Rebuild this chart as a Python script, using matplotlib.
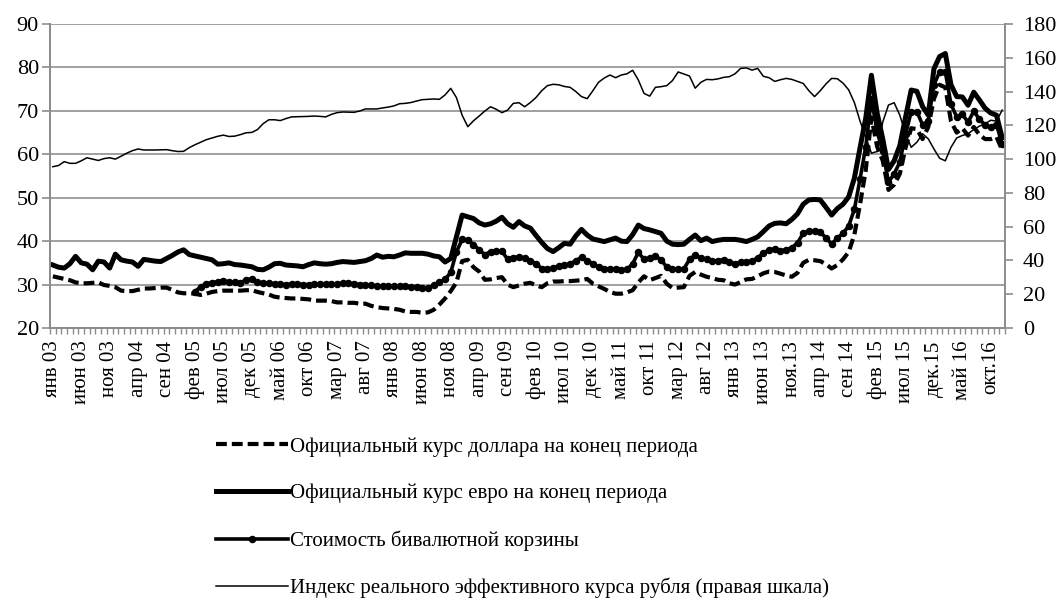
import matplotlib
matplotlib.use('Agg')

import numpy as np
from matplotlib import rc
from matplotlib import pyplot as plt

rc('font', family=['Liberation Serif', 'DejaVu Serif'])

nan = np.nan

# monthly, Jan 2003 .. Dec 2016 (one row per year)
usd = [
    31.9, 31.6, 31.3, 31.0, 30.5, 30.3, 30.3, 30.4, 30.5, 29.9, 29.7, 29.4,
    28.6, 28.5, 28.5, 28.8, 29.1, 29.1, 29.2, 29.3, 29.3, 28.8, 28.2, 28.0,
    28.0, 27.9, 27.6, 27.9, 28.3, 28.5, 28.6, 28.6, 28.6, 28.6, 28.7, 28.7,
    28.3, 28.0, 27.7, 27.2, 27.0, 26.9, 26.8, 26.8, 26.7, 26.6, 26.3, 26.3,
    26.3, 26.2, 25.9, 25.9, 25.8, 25.8, 25.6, 25.6, 25.1, 24.8, 24.6, 24.5,
    24.4, 24.2, 23.8, 23.7, 23.7, 23.5, 23.6, 24.2, 25.4, 26.8, 28.5, 30.5,
    35.4, 35.7, 34.0, 33.0, 31.1, 31.2, 31.5, 31.7, 30.0, 29.4, 29.8, 30.2,
    30.4, 29.8, 29.4, 30.3, 30.7, 30.7, 30.8, 30.8, 30.9, 31.0, 31.3, 30.2,
    29.6, 29.0, 28.3, 27.9, 27.9, 28.2, 28.7, 30.5, 31.9, 31.0, 31.5, 32.0,
    30.2, 29.2, 29.3, 29.4, 32.0, 32.9, 32.3, 31.8, 31.5, 31.1, 31.0, 30.3,
    30.0, 30.6, 31.2, 31.3, 31.9, 32.6, 33.0, 32.9, 32.5, 32.1, 31.8, 32.7,
    35.0, 35.7, 35.6, 35.4, 34.7, 33.7, 34.5, 35.8, 37.5, 41.5, 48.5, 56.3,
    68.5, 61.8, 58.5, 51.8, 53.0, 55.5, 61.5, 66.0, 65.8, 63.5, 66.3, 72.8,
    76.0, 75.4, 67.6, 65.0, 66.0, 64.3, 66.3, 64.5, 63.5, 63.5, 64.0, 61.0,
]

eur = [
    34.5, 34.0, 33.8, 34.8, 36.5, 35.0, 34.7, 33.4, 35.4, 35.2, 33.8, 37.0,
    35.7, 35.4, 35.2, 34.2, 35.8, 35.6, 35.4, 35.3, 36.0, 36.7, 37.5, 38.0,
    36.9, 36.6, 36.3, 36.0, 35.7, 34.7, 34.8, 35.0, 34.6, 34.5, 34.3, 34.1,
    33.5, 33.4, 34.0, 34.8, 34.9, 34.5, 34.4, 34.3, 34.1, 34.6, 35.0, 34.8,
    34.7, 34.8, 35.1, 35.3, 35.2, 35.1, 35.3, 35.5, 36.0, 36.8, 36.3, 36.5,
    36.4, 36.8, 37.3, 37.2, 37.2, 37.2, 37.0, 36.6, 36.4, 35.2, 36.0, 41.0,
    46.0, 45.6, 45.2, 44.2, 43.7, 44.0, 44.6, 45.5, 44.0, 43.2, 44.5, 43.5,
    43.0, 41.3, 39.7, 38.3, 37.6, 38.5, 39.5, 39.3, 41.2, 42.7, 41.4, 40.5,
    40.2, 39.9, 40.3, 40.7, 40.0, 39.9, 41.5, 43.7, 42.9, 42.6, 42.2, 41.8,
    40.0, 39.3, 39.2, 39.3, 40.4, 41.4, 40.1, 40.7, 39.9, 40.2, 40.4, 40.4,
    40.4, 40.2, 39.9, 40.4, 41.0, 42.2, 43.5, 44.1, 44.2, 44.0, 45.0, 46.3,
    48.5, 49.5, 49.6, 49.5, 47.8, 46.0, 47.5, 48.5, 50.2, 54.5, 61.5, 68.3,
    78.2, 69.5, 63.5, 56.5, 58.5, 62.0, 68.5, 74.8, 74.5, 71.0, 69.0, 79.7,
    82.5, 83.2, 76.0, 73.3, 73.2, 71.3, 74.3, 72.5, 70.6, 69.5, 69.0, 63.8,
]

basket = [
    nan, nan, nan, nan, nan, nan, nan, nan, nan, nan, nan, nan,
    nan, nan, nan, nan, nan, nan, nan, nan, nan, nan, nan, nan,
    nan, 28.4, 29.5, 30.2, 30.4, 30.7, 30.8, 30.6, 30.5, 30.4, 31.1, 31.3,
    30.6, 30.4, 30.3, 30.2, 30.1, 30.0, 30.1, 30.1, 30.0, 30.0, 30.1, 30.1,
    30.2, 30.1, 30.2, 30.3, 30.3, 30.2, 30.0, 29.9, 29.8, 29.6, 29.6, 29.7,
    29.7, 29.6, 29.6, 29.5, 29.5, 29.3, 29.2, 29.8, 30.5, 31.2, 32.8, 37.5,
    40.4, 40.3, 39.2, 38.0, 36.9, 37.6, 37.8, 37.7, 35.8, 36.2, 36.4, 36.1,
    35.5, 34.8, 33.7, 33.6, 33.8, 34.3, 34.5, 34.8, 35.5, 36.3, 35.5, 34.8,
    34.0, 33.7, 33.6, 33.5, 33.4, 33.5, 34.8, 37.4, 35.8, 36.2, 36.6, 35.7,
    34.0, 33.6, 33.5, 33.6, 35.8, 36.8, 36.1, 35.8, 35.4, 35.5, 35.7, 35.1,
    34.8, 35.1, 35.3, 35.4, 36.2, 37.2, 38.0, 38.2, 37.8, 38.0, 38.5, 39.6,
    41.8, 42.4, 42.3, 42.0, 40.8, 39.3, 40.7, 41.8, 43.5, 47.3, 54.3, 61.7,
    72.8, 65.2, 60.7, 53.6, 55.5, 58.2, 64.6, 69.8, 69.8, 66.8, 67.7, 76.0,
    79.0, 79.0, 71.5, 68.6, 69.2, 67.4, 69.9, 68.1, 66.7, 66.2, 66.8, 62.4,
]

reer = [
    95.5, 96.2, 98.5, 97.5, 97.5, 99.0, 100.8, 100.0, 99.2, 100.3, 100.8, 100.0,
    101.7, 103.5, 105.0, 106.0, 105.4, 105.4, 105.4, 105.5, 105.6, 105.0, 104.5, 104.6,
    106.8, 108.5, 110.0, 111.5, 112.5, 113.5, 114.2, 113.4, 113.6, 114.5, 115.6, 115.8,
    117.5, 121.0, 123.3, 123.3, 122.8, 124.0, 125.0, 125.1, 125.2, 125.3, 125.5, 125.3,
    125.0, 126.5, 127.5, 127.9, 127.8, 127.7, 128.5, 129.7, 129.7, 129.7, 130.3, 130.8,
    131.5, 132.8, 133.0, 133.5, 134.4, 135.2, 135.4, 135.6, 135.4, 138.0, 141.9, 136.4,
    126.0, 119.2, 122.7, 125.5, 128.5, 131.0, 129.5, 127.5, 129.0, 133.0, 133.4, 131.0,
    133.5, 136.5, 140.5, 143.5, 144.3, 144.0, 143.0, 142.5, 140.0, 137.0, 135.8, 140.5,
    145.5, 148.0, 149.8, 148.2, 149.8, 150.5, 152.6, 146.8, 138.9, 137.3, 142.5, 142.9,
    143.5, 146.5, 151.6, 150.4, 149.2, 142.0, 145.5, 147.2, 147.0, 147.5, 148.4, 148.8,
    150.5, 153.7, 154.0, 152.7, 153.7, 149.0, 148.2, 146.0, 147.0, 147.8, 147.2, 146.0,
    144.8, 140.5, 137.0, 140.5, 144.5, 147.8, 147.6, 145.0, 141.0, 133.5, 122.5, 113.0,
    103.5, 104.5, 122.0, 132.0, 133.4, 126.0, 115.0, 107.0, 110.0, 115.0, 112.0, 106.0,
    100.5, 99.0, 107.0, 112.5, 114.0, 115.0, 117.5, 119.5, 121.0, 123.0, 122.5, 129.0,
]

tick_labels = ['янв 03', 'июн 03', 'ноя 03', 'апр 04', 'сен 04', 'фев 05',
               'июл 05', 'дек 05', 'май 06', 'окт 06', 'мар 07', 'авг 07',
               'янв 08', 'июн 08', 'ноя 08', 'апр 09', 'сен 09', 'фев 10',
               'июл 10', 'дек 10', 'май 11', 'окт 11', 'мар 12', 'авг 12',
               'янв 13', 'июн 13', 'ноя.13', 'апр 14', 'сен 14', 'фев 15',
               'июл 15', 'дек.15', 'май 16', 'окт.16']

names = ['Официальный курс доллара на конец периода',
         'Официальный курс евро на конец периода',
         'Стоимость бивалютной корзины',
         'Индекс реального эффективного курса рубля (правая шкала)']

frame = '#8c8c8c'
x = np.arange(len(usd))

fig = plt.figure(figsize=(10.57, 6.02), dpi=100)
ax = fig.add_axes([50 / 1057, 1 - 328 / 602, 955 / 1057, 304 / 602])
ax2 = ax.twinx()

l1, = ax.plot(x, usd, color='black', lw=3.0, dashes=(2.6, 1.2))
l2, = ax.plot(x, eur, color='black', lw=3.6, solid_joinstyle='round')
l3, = ax.plot(x, basket, color='black', lw=2.6, marker='o', markersize=4.4)
l4, = ax2.plot(x, reer, color='black', lw=1.1)

ax.set_xlim(-0.5, len(usd) - 0.5)
ax.set_ylim(20, 90)
ax.set_yticks(np.arange(20, 91, 10))
ax2.set_ylim(0, 180)
ax2.set_yticks(np.arange(0, 181, 20))

ax.set_xticks(x[::5])
ax.set_xticklabels(tick_labels, rotation=90)
ax.set_xticks(np.arange(-0.5, len(usd)), minor=True)

ax.yaxis.grid(True, color='#a0a0a0', lw=1.4)
ax.set_axisbelow(True)

for a in (ax, ax2):
    for loc, spine in a.spines.items():
        spine.set_color(frame)
        spine.set_linewidth(1.4)
    a.spines['top'].set_visible(False)
ax.spines['right'].set_visible(False)

ax.tick_params(axis='x', which='major', length=0, pad=9, labelsize=15)
ax.tick_params(axis='x', which='minor', length=4, width=1, color=frame)
ax.tick_params(axis='y', length=6, width=1.2, color=frame, pad=2, labelsize=16)
ax2.tick_params(axis='y', length=6, width=1.2, color=frame, pad=7, labelsize=16)

fig.legend([l1, l2, l3, l4], names, loc='upper left',
           bbox_to_anchor=(216 / 1057, 1 - 437 / 602), frameon=False,
           fontsize=15, handlelength=3.45, handletextpad=0.12,
           labelspacing=1.3, borderpad=0, borderaxespad=0)

fig.savefig('out.png', dpi=100)
